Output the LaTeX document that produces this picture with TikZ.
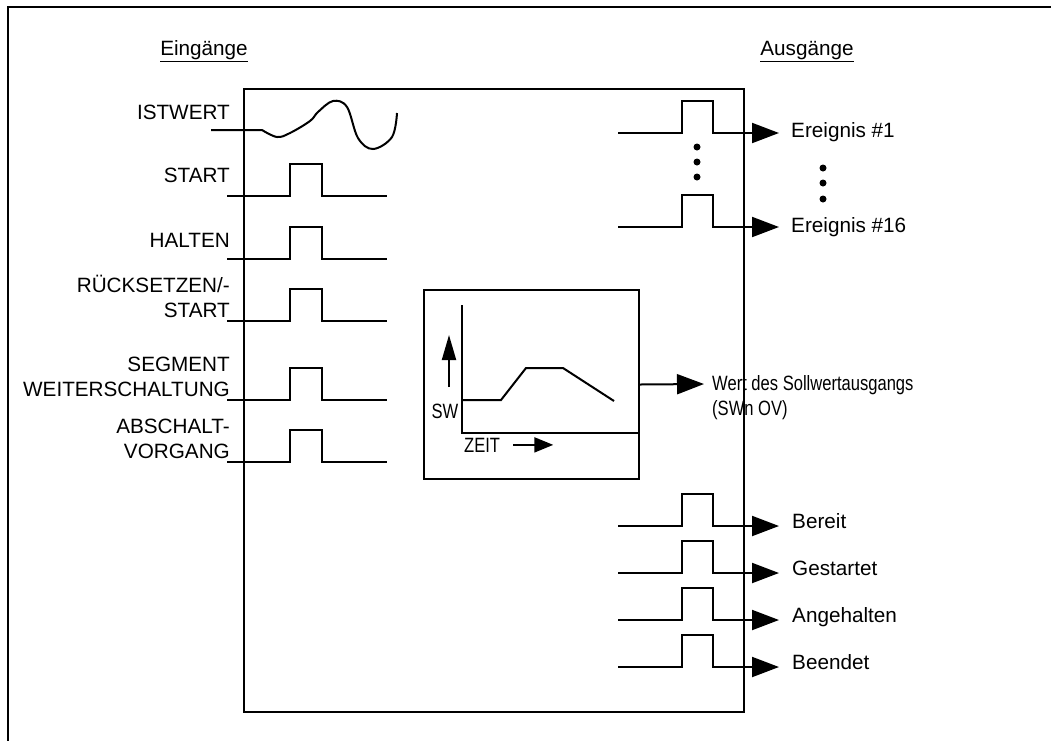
\documentclass[tikz,border=0pt]{standalone}
\usepackage{fontspec}
\setmainfont{Liberation Sans}
\newfontfamily\narrowfont[FakeStretch=0.8]{Liberation Sans}
\usetikzlibrary{arrows.meta,positioning}

\begin{document}
\begin{tikzpicture}[
    x=1pt, y=-1pt,
    every node/.style={font=\fontsize{20.7}{25}\selectfont, inner sep=0pt},
    sig/.style={line width=2pt},
    frame/.style={draw, line width=2pt},
    outarrow/.style={line width=2pt, -{Triangle[length=27pt, width=20pt]}},
    narrow/.style={font=\narrowfont\fontsize{20.7}{25}\selectfont}
]
    \useasboundingbox (0,0) rectangle (1051,740);
    % outer frame (cut at right and bottom)
    \draw[sig] (8,745) -- (8,7) -- (1056,7);

    \node[anchor=base] (ein) at (204,55) {\underline{Eingänge}};
    \node[anchor=base] (aus) at (807,55) {\underline{Ausgänge}};

    % main block
    \node[frame, minimum width=500, minimum height=623] (block) at (494,400.5) {};

    % inputs
    \node[anchor=base east] (istwert) at (230,119) {ISTWERT};
    \node[anchor=base east] (start) at (230,182) {START};
    \node[anchor=base east] (halten) at (230,247) {HALTEN};
    \node[anchor=south east, align=right] (reset) at (230,318) {RÜCKSETZEN/-\\START};
    \node[anchor=south east, align=right] (segment) at (230,397) {SEGMENT\\WEITERSCHALTUNG};
    \node[anchor=south east, align=right] (abschalt) at (230,459) {ABSCHALT-\\VORGANG};

    \draw[sig] (211,130) -- (262,130)
        plot[smooth, tension=0.6] coordinates {(262,130) (277,137) (290,133) (310,121) (318,112)
            (333,101) (347,107) (358,138) (373,149) (392,137) (397,113)};
    \foreach \lo in {196,259,321,400,462}
        \draw[sig] (227,\lo) -- (290,\lo) -- (290,\lo-32) -- (322,\lo-32) -- (322,\lo) -- (387,\lo);

    % outputs
    \foreach \lo in {133,227,526,573,620,667}
        \draw[outarrow] (618,\lo) -- (682,\lo) -- (682,\lo-32) -- (713,\lo-32) -- (713,\lo) -- (779,\lo);
    \foreach \yy in {147,162,177}
        \fill (697,\yy) circle (3.5);
    \foreach \yy in {168,183,199}
        \fill (823,\yy) circle (3.5);

    \node[anchor=base west] (ev1) at (791,137) {Ereignis \#1};
    \node[anchor=base west] (ev16) at (791,232) {Ereignis \#16};
    \node[anchor=base west] (bereit) at (792,528) {Bereit};
    \node[anchor=base west] (gestartet) at (792,575) {Gestartet};
    \node[anchor=base west] (angehalten) at (792,622) {Angehalten};
    \node[anchor=base west] (beendet) at (792,669) {Beendet};

    % setpoint profile
    \node[frame, minimum width=215, minimum height=189] (chart) at (531.5,384.5) {};
    \draw[sig] (462,305) -- (462,433) -- (chart.east |- 462,433);
    \draw[sig] (462,400) -- (501,400) -- (526,368) -- (563,368) -- (614,401);
    \draw[line width=2pt, -{Triangle[length=25pt, width=14pt]}] (449,387) -- (449,335);
    \node[narrow, anchor=base] (sw) at (445,418) {SW};
    \node[narrow, anchor=base west] (zeit) at (464,452) {ZEIT};
    \draw[line width=2pt, -{Triangle[length=19pt, width=15pt]}] ([xshift=13pt]zeit.east) -- ++(40,0);

    \coordinate (swtip) at (704,384);
    \draw[outarrow] (chart.east) -- (swtip);
    \node[narrow, anchor=north west, align=left] (swout) at (712,375)
        {Wert des Sollwertausgangs\\(SWn OV)};
\end{tikzpicture}
\end{document}
